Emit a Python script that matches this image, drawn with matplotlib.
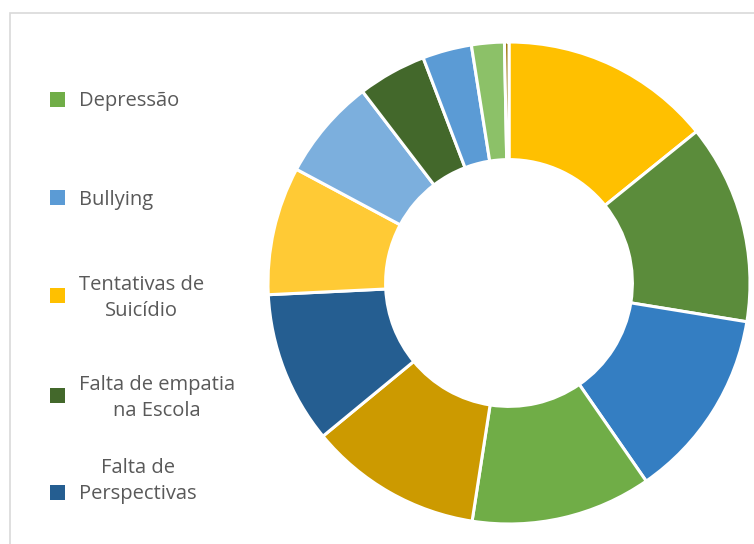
import matplotlib.pyplot as plt
from matplotlib.patches import Rectangle

# slice shares (%), clockwise from 12 o'clock
values = [14.2, 13.4, 12.8, 12.1, 11.6, 10.2, 8.6, 6.8, 4.6, 3.3, 2.2, 0.3]
colors = ["#FFC000", "#5B8C3B", "#347EC2", "#70AD47", "#CC9A00", "#255E91",
          "#FFCA35", "#7CAFDD", "#43682B", "#5B9BD5", "#8CC168", "#997300"]

# legend entries that fit in the chart area (index into the slices above)
legend_labels = ["Depressão", "Bullying", "Tentativas de\nSuicídio",
                 "Falta de empatia\nna Escola", "Falta de\nPerspectivas"]
legend_slices = [3, 9, 0, 8, 5]

W, H = 754, 544
fig = plt.figure(figsize=(W / 100, H / 100), dpi=100)
fig.patch.set_facecolor("white")

# chart area border, runs off the right and bottom edges
fig.patches.append(Rectangle((10 / W, -0.1), 1.2, 1.1 - 13 / H,
                             transform=fig.transFigure, fill=False,
                             edgecolor="#D9D9D9", linewidth=1.2))

ax = fig.add_axes([0, 0, 1, 1])
ax.pie(values, colors=colors, startangle=90, counterclock=False,
       wedgeprops=dict(width=0.488, edgecolor="white", linewidth=2.2))

# pixel placement of the donut (centre and radius)
cx, cy, r = 509, 283, 241
ax.set_aspect("auto")
ax.set_xlim(-cx / r, (W - cx) / r)
ax.set_ylim((cy - H) / r, cy / r)
ax.axis("off")

# legend
sq_y = [99.5, 198, 295.5, 395.5, 492.5]
txt_y = [101, 200, 298, 398, 481]
for lab, idx, sy, ty in zip(legend_labels, legend_slices, sq_y, txt_y):
    fig.patches.append(Rectangle((50 / W, 1 - (sy + 7.5) / H), 15 / W, 15 / H,
                                 transform=fig.transFigure,
                                 facecolor=colors[idx], edgecolor="none"))
    fig.text(79 / W, 1 - ty / H, lab, ha="left", va="center",
             multialignment="center", fontsize=14.5, color="#595959",
             family="Open Sans", linespacing=1.45)

fig.savefig("out.png", dpi=100)
